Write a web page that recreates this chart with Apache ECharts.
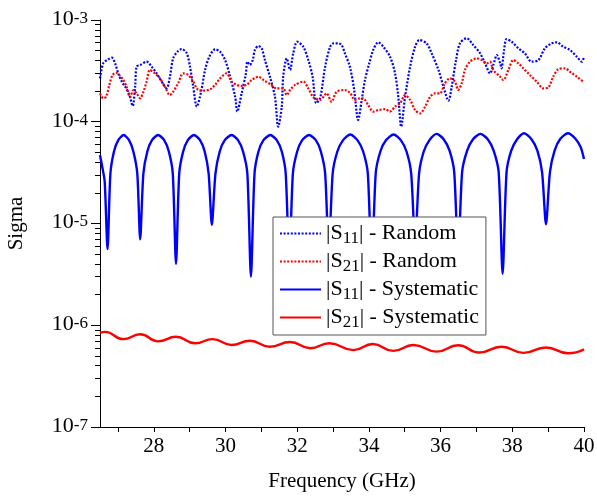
<!DOCTYPE html>
<html>
<head>
<meta charset="utf-8">
<script src="https://cdn.jsdelivr.net/npm/echarts@6/dist/echarts.min.js"></script>
<style>html,body{margin:0;padding:0;background:#fff}#c{width:597px;height:496px}</style>
</head>
<body>
<div id="c"></div>
<script>
// ---- data ----
const xLabelTicks = [28, 30, 32, 34, 36, 38, 40];
const xAllTicks = [27, 28, 29, 30, 31, 32, 33, 34, 35, 36, 37, 38, 39, 40];
const yDecades = [-7, -6, -5, -4, -3];

const s11RandF = [26.50,26.59,26.73,26.83,26.92,27.01,27.11,27.23,27.32,27.41,27.48,27.52,27.62,27.80,27.94,28.08,28.22,28.36,28.45,28.54,28.66,28.78,28.92,29.01,29.10,29.20,29.32,29.43,29.55,29.71,29.85,29.99,30.13,30.27,30.33,30.45,30.57,30.61,30.68,30.76,30.82,30.92,31.01,31.10,31.24,31.38,31.47,31.57,31.61,31.71,31.80,31.89,32.00,32.17,32.31,32.43,32.53,32.64,32.78,32.92,33.01,33.15,33.24,33.33,33.47,33.59,33.70,33.80,33.89,34.01,34.12,34.26,34.40,34.59,34.73,34.82,34.90,35.01,35.15,35.29,35.41,35.61,35.75,35.94,36.08,36.22,36.31,36.43,36.54,36.73,36.91,37.10,37.24,37.38,37.47,37.57,37.66,37.70,37.77,37.84,37.98,38.17,38.35,38.54,38.73,38.91,39.10,39.24,39.42,39.61,39.80,39.94,40.00];
const s11RandV = [2.67e-4,3.75e-4,4.11e-4,4.26e-4,3.75e-4,2.99e-4,2.48e-4,2.13e-4,1.83e-4,1.43e-4,2.21e-4,3.48e-4,3.61e-4,3.89e-4,3.48e-4,2.99e-4,2.48e-4,2.13e-4,2.77e-4,4.20e-4,4.88e-4,5.19e-4,4.71e-4,3.48e-4,2.21e-4,1.41e-4,1.97e-4,3.23e-4,4.36e-4,5.15e-4,4.88e-4,4.04e-4,2.77e-4,1.76e-4,1.26e-4,1.90e-4,2.99e-4,3.89e-4,3.61e-4,4.04e-4,5.07e-4,5.55e-4,5.27e-4,4.04e-4,2.77e-4,1.76e-4,8.94e-5,1.41e-4,2.77e-4,4.20e-4,3.23e-4,4.71e-4,6.12e-4,5.47e-4,4.04e-4,2.77e-4,1.52e-4,1.70e-4,3.48e-4,5.47e-4,5.90e-4,5.90e-4,5.68e-4,4.71e-4,3.48e-4,2.05e-4,1.04e-4,1.64e-4,2.57e-4,3.75e-4,5.07e-4,6.04e-4,5.47e-4,4.36e-4,2.99e-4,1.76e-4,8.94e-5,1.76e-4,3.48e-4,5.47e-4,6.36e-4,5.90e-4,4.71e-4,3.23e-4,2.21e-4,1.61e-4,2.21e-4,4.04e-4,5.90e-4,6.61e-4,5.68e-4,4.71e-4,3.75e-4,2.99e-4,3.61e-4,4.53e-4,3.75e-4,3.35e-4,5.07e-4,6.50e-4,6.12e-4,5.27e-4,4.71e-4,3.89e-4,4.04e-4,5.27e-4,5.90e-4,6.04e-4,5.47e-4,5.07e-4,4.36e-4,3.89e-4,4.36e-4];

const s21RandF = [26.50,26.59,26.67,26.76,26.85,26.95,27.04,27.15,27.24,27.34,27.43,27.52,27.62,27.71,27.80,27.89,28.03,28.17,28.31,28.45,28.54,28.68,28.82,28.96,29.10,29.24,29.38,29.57,29.71,29.85,30.03,30.17,30.31,30.45,30.59,30.73,30.92,31.06,31.24,31.43,31.61,31.71,31.80,31.94,32.17,32.31,32.45,32.64,32.82,32.96,33.10,33.33,33.47,33.61,33.75,33.84,33.98,34.12,34.26,34.45,34.59,34.73,34.87,35.01,35.15,35.29,35.43,35.57,35.70,35.84,35.98,36.12,36.26,36.40,36.49,36.59,36.68,36.82,37.01,37.15,37.29,37.38,37.47,37.66,37.75,37.89,38.03,38.17,38.31,38.49,38.68,38.87,39.01,39.14,39.28,39.47,39.61,39.80,39.98];
const s21RandV = [1.90e-4,1.70e-4,1.76e-4,2.30e-4,2.88e-4,3.03e-4,2.88e-4,2.57e-4,2.21e-4,1.74e-4,2.05e-4,1.90e-4,1.70e-4,1.97e-4,2.48e-4,3.23e-4,2.99e-4,2.67e-4,2.21e-4,1.83e-4,1.97e-4,2.39e-4,2.99e-4,2.88e-4,2.48e-4,2.05e-4,2.02e-4,2.08e-4,2.30e-4,2.67e-4,2.99e-4,2.48e-4,2.30e-4,2.25e-4,2.30e-4,2.57e-4,2.77e-4,2.57e-4,2.35e-4,2.13e-4,2.13e-4,1.83e-4,2.05e-4,2.30e-4,2.48e-4,2.13e-4,1.74e-4,1.64e-4,1.90e-4,1.57e-4,1.97e-4,2.05e-4,1.93e-4,1.64e-4,1.70e-4,1.70e-4,1.46e-4,1.26e-4,1.30e-4,1.33e-4,1.26e-4,1.41e-4,1.52e-4,1.83e-4,1.64e-4,1.30e-4,1.21e-4,1.41e-4,1.74e-4,1.90e-4,1.90e-4,2.39e-4,2.67e-4,2.48e-4,2.05e-4,2.39e-4,3.23e-4,3.89e-4,4.20e-4,4.04e-4,3.75e-4,3.89e-4,3.23e-4,2.77e-4,2.57e-4,3.23e-4,4.04e-4,3.75e-4,3.35e-4,2.88e-4,2.48e-4,2.13e-4,2.18e-4,2.77e-4,3.28e-4,3.35e-4,3.10e-4,2.77e-4,2.48e-4];

const s11SysF = [26.50,26.55,26.63,26.71,26.79,26.89,27.01,27.16,27.31,27.43,27.54,27.62,27.71,27.82,27.95,28.12,28.29,28.42,28.53,28.62,28.71,28.82,28.95,29.12,29.29,29.42,29.53,29.62,29.72,29.84,29.98,30.17,30.35,30.49,30.61,30.71,30.81,30.92,31.06,31.25,31.43,31.57,31.68,31.78,31.88,32.00,32.14,32.33,32.52,32.66,32.78,32.88,32.99,33.12,33.28,33.48,33.68,33.84,33.97,34.08,34.19,34.32,34.48,34.69,34.89,35.05,35.18,35.29,35.40,35.53,35.69,35.89,36.09,36.25,36.38,36.49,36.60,36.74,36.90,37.11,37.32,37.48,37.62,37.73,37.84,37.97,38.13,38.33,38.54,38.70,38.83,38.94,39.05,39.18,39.34,39.55,39.76,39.91,40.00];
const s11SysV = [4.7e-5,3.8e-5,2.6e-5,5.6e-6,3.1e-5,5.1e-5,6.6e-5,7.4e-5,6.6e-5,5.1e-5,3.1e-5,7.0e-6,3.1e-5,5.1e-5,6.6e-5,7.4e-5,6.6e-5,5.1e-5,3.1e-5,4.0e-6,3.1e-5,5.1e-5,6.6e-5,7.4e-5,6.6e-5,5.1e-5,3.1e-5,9.7e-6,3.1e-5,5.1e-5,6.6e-5,7.4e-5,6.6e-5,5.1e-5,3.1e-5,3.0e-6,3.1e-5,5.1e-5,6.6e-5,7.4e-5,6.6e-5,5.1e-5,3.1e-5,4.0e-6,3.1e-5,5.1e-5,6.6e-5,7.4e-5,6.6e-5,5.1e-5,3.1e-5,5.0e-6,3.1e-5,5.1e-5,6.6e-5,7.5e-5,6.6e-5,5.1e-5,3.1e-5,3.5e-6,3.1e-5,5.1e-5,6.6e-5,7.5e-5,6.6e-5,5.1e-5,3.1e-5,6.0e-6,3.1e-5,5.1e-5,6.6e-5,7.6e-5,6.7e-5,5.2e-5,3.2e-5,4.5e-6,3.2e-5,5.2e-5,6.7e-5,7.6e-5,6.7e-5,5.2e-5,3.2e-5,3.2e-6,3.2e-5,5.2e-5,6.7e-5,7.7e-5,6.7e-5,5.2e-5,3.2e-5,9.8e-6,3.2e-5,5.2e-5,6.8e-5,7.7e-5,6.8e-5,5.6e-5,4.3e-5];

const s21SysF = [26.50,26.64,27.15,27.62,28.12,28.62,29.15,29.64,30.17,30.68,31.24,31.80,32.36,32.90,33.57,34.11,34.68,35.24,35.89,36.49,37.08,37.70,38.31,38.94,39.56,40.00];
const s21SysV = [8.4e-7,8.6e-7,7.3e-7,8.15e-7,6.95e-7,7.7e-7,6.65e-7,7.3e-7,6.4e-7,7.05e-7,6.15e-7,6.85e-7,5.95e-7,6.65e-7,5.7e-7,6.55e-7,5.6e-7,6.4e-7,5.5e-7,6.35e-7,5.4e-7,6.15e-7,5.35e-7,6.05e-7,5.3e-7,5.8e-7];

const seriesNames = ['S11R', 'S21R', 'S11S', 'S21S'];
const legendTexts = {
  S11R: '{m||S}{sub|11}{m|| - Random}',
  S21R: '{m||S}{sub|21}{m|| - Random}',
  S11S: '{m||S}{sub|11}{m|| - Systematic}',
  S21S: '{m||S}{sub|21}{m|| - Systematic}'
};

function zip(f, v) { return f.map((x, i) => [x, v[i]]); }

const FONT = 'Liberation Serif';
const minorExps = [];
for (let e = -7; e < -3; e++) for (let k = 2; k <= 9; k++) minorExps.push(e + Math.log10(k));

const chart = echarts.init(document.getElementById('c'), null, { renderer: 'canvas' });
chart.setOption({
  animation: false,
  backgroundColor: '#fff',
  grid: { left: 100, right: 13, top: 20, bottom: 69, containLabel: false, outerBoundsMode: 'none' },
  legend: {
    orient: 'vertical', left: 273, top: 217,
    padding: [5, 7, 4, 6], itemGap: 3, itemWidth: 41, itemHeight: 14,
    backgroundColor: '#fff', borderColor: '#555', borderWidth: 1, borderRadius: 0,
    selectedMode: false,
    data: seriesNames,
    itemStyle: { opacity: 0, color: 'rgba(0,0,0,0)', borderColor: 'rgba(0,0,0,0)', borderWidth: 0 },
    formatter: n => legendTexts[n],
    textStyle: {
      color: '#000', fontFamily: FONT, fontSize: 22,
      rich: {
        m: { fontFamily: FONT, fontSize: 22, lineHeight: 23, verticalAlign: 'top', color: '#000' },
        sub: { fontFamily: FONT, fontSize: 17, lineHeight: 17, padding: [8, 0, 0, 0], verticalAlign: 'top', color: '#000' }
      }
    }
  },
  xAxis: {
    type: 'value', min: 26.5, max: 40,
    name: 'Frequency (GHz)', nameLocation: 'middle', nameGap: 44,
    nameTextStyle: { fontFamily: FONT, fontSize: 21, color: '#000' },
    axisLine: { show: true, lineStyle: { color: '#000', width: 1 } },
    axisTick: { show: true, length: 5, customValues: xAllTicks, lineStyle: { color: '#000' } },
    axisLabel: { customValues: xLabelTicks, margin: 9, fontFamily: FONT, fontSize: 21, color: '#000' },
    splitLine: { show: false }
  },
  yAxis: [{
    type: 'log', logBase: 10, min: 1e-7, max: 1e-3,
    name: 'Sigma', nameLocation: 'middle', nameGap: 73,
    nameTextStyle: { fontFamily: FONT, fontSize: 21, color: '#000' },
    axisLine: { show: true, lineStyle: { color: '#000', width: 1 } },
    axisTick: { show: true, length: 9, lineStyle: { color: '#000' } },
    axisLabel: {
      margin: 12, color: '#000',
      formatter: v => { const e = Math.round(Math.log10(v)); return yDecades.indexOf(e) >= 0 ? '{b|10}{sup|' + e + '}' : ''; },
      rich: {
        b: { fontFamily: FONT, fontSize: 22, lineHeight: 20, verticalAlign: 'bottom', color: '#000' },
        sup: { fontFamily: FONT, fontSize: 17, lineHeight: 15, padding: [0, 0, 15, 0], verticalAlign: 'top', color: '#000' }
      }
    },
    splitLine: { show: false }
  }, {
    type: 'value', min: -7, max: -3, position: 'left', offset: 0,
    axisLine: { show: false },
    axisLabel: { show: false },
    axisTick: { show: true, length: 5, customValues: minorExps, lineStyle: { color: '#000' } },
    splitLine: { show: false }
  }],
  series: [
    { name: 'S11R', type: 'line', data: zip(s11RandF, s11RandV), symbol: 'none', smooth: 0.3,
      lineStyle: { color: '#0000ff', width: 2.2, type: [2, 1.6] }, itemStyle: { color: '#0000ff' } },
    { name: 'S21R', type: 'line', data: zip(s21RandF, s21RandV), symbol: 'none', smooth: 0.3,
      lineStyle: { color: '#ff0000', width: 2.2, type: [2, 1.6] }, itemStyle: { color: '#ff0000' } },
    { name: 'S11S', type: 'line', data: zip(s11SysF, s11SysV), symbol: 'none', smooth: 0.25,
      lineStyle: { color: '#0000ff', width: 2.4 }, itemStyle: { color: '#0000ff' } },
    { name: 'S21S', type: 'line', data: zip(s21SysF, s21SysV), symbol: 'none', smooth: 0.5,
      lineStyle: { color: '#ff0000', width: 2.4 }, itemStyle: { color: '#ff0000' } }
  ]
});
</script>
</body>
</html>
